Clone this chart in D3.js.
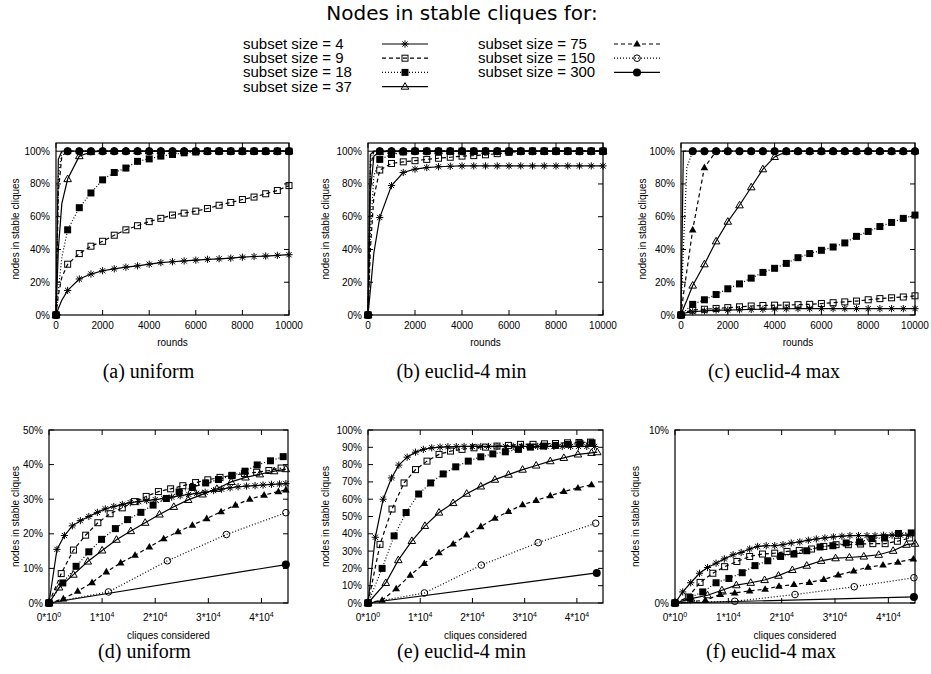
<!DOCTYPE html>
<html lang="en">
<head>
<meta charset="utf-8">
<script src="https://cdnjs.cloudflare.com/ajax/libs/d3/7.8.5/d3.min.js"></script>
<style>
  body { margin: 0; background: #fff; }
  svg { display: block; }
  .tick-label, .axis-title { font-family: 'Liberation Sans', Arial, sans-serif; font-size: 10px; fill: #000; }
  .caption { font-family: 'Liberation Serif', 'Times New Roman', serif; font-size: 20px; fill: #000; }
  .legend-text { font-family: 'Liberation Sans', Arial, sans-serif; font-size: 15px; fill: #000; }
  .legend-title { font-family: 'DejaVu Sans', sans-serif; font-size: 20px; fill: #000; }
</style>
</head>
<body>
<script>

// ---- data ----
const subsetSizes = [4, 9, 18, 37, 75, 150, 300];

// top row: x = rounds
const roundsX = [0, 100, 250, 500, 1000, 1500, 2000, 2500, 3000, 3500, 4000, 4500, 5000, 5500, 6000, 6500, 7000, 7500, 8000, 8500, 9000, 9500, 10000];
const roundTicks = [0, 2000, 4000, 6000, 8000, 10000];

// (a) uniform, % nodes in stable cliques
const uni4   = [0, 4, 9, 15, 22, 25, 27, 28.2, 29.2, 30, 31, 32, 32.5, 33, 33.5, 34, 34.3, 34.7, 35.3, 35.7, 36, 36.4, 36.8];
const uni9   = [0, 12, 23, 31, 37.5, 42, 45, 48.7, 52, 54.5, 57, 59, 61, 62.2, 63.4, 65, 67, 68.7, 70.5, 72, 74, 76, 79];
const uni18  = [0, 15, 35, 52, 65.5, 74.5, 82.5, 87, 89.7, 93.8, 95.3, 97, 98, 99, 99.5, 100, 100, 100, 100, 100, 100, 100, 100];
const uni37  = [0, 40, 68, 83, 97, 99.5, 100, 100, 100, 100, 100, 100, 100, 100, 100, 100, 100, 100, 100, 100, 100, 100, 100];
const uni75  = [0, 75, 97, 100, 100, 100, 100, 100, 100, 100, 100, 100, 100, 100, 100, 100, 100, 100, 100, 100, 100, 100, 100];
const uni150 = [0, 85, 99, 100, 100, 100, 100, 100, 100, 100, 100, 100, 100, 100, 100, 100, 100, 100, 100, 100, 100, 100, 100];
const uni300 = [0, 95, 100, 100, 100, 100, 100, 100, 100, 100, 100, 100, 100, 100, 100, 100, 100, 100, 100, 100, 100, 100, 100];

// (b) euclid-4 min
const min4   = [0, 15, 38, 59.5, 79, 87, 89, 90, 90.5, 90.8, 91, 91, 91, 91, 91, 91, 91, 91, 91, 91, 91, 91, 91];
const min9   = [0, 40, 72, 88.5, 92.5, 93.5, 94.2, 95, 95.7, 96.3, 97, 97.3, 97.8, 98.5, 99.3, 99.8, 100, 100, 100, 100, 100, 100, 100];
const min18  = [0, 50, 85, 95, 98, 99.5, 100, 100, 100, 100, 100, 100, 100, 100, 100, 100, 100, 100, 100, 100, 100, 100, 100];
const min37  = [0, 75, 97, 99.5, 100, 100, 100, 100, 100, 100, 100, 100, 100, 100, 100, 100, 100, 100, 100, 100, 100, 100, 100];
const min75  = [0, 90, 100, 100, 100, 100, 100, 100, 100, 100, 100, 100, 100, 100, 100, 100, 100, 100, 100, 100, 100, 100, 100];
const min150 = [0, 95, 100, 100, 100, 100, 100, 100, 100, 100, 100, 100, 100, 100, 100, 100, 100, 100, 100, 100, 100, 100, 100];
const min300 = [0, 98, 100, 100, 100, 100, 100, 100, 100, 100, 100, 100, 100, 100, 100, 100, 100, 100, 100, 100, 100, 100, 100];

// (c) euclid-4 max
const max4   = [0, 0.8, 1.5, 2, 2.5, 3, 3, 3.2, 3.4, 3.5, 3.7, 3.8, 3.9, 3.9, 3.9, 3.9, 3.9, 3.9, 3.9, 3.9, 3.9, 3.9, 3.9];
const max9   = [0, 1, 2, 3, 3.5, 4, 4.5, 5, 5.5, 5.8, 6, 6, 6.3, 6.5, 7, 7.5, 8, 8.5, 9.3, 10, 10.5, 11, 11.7];
const max18  = [0, 1.5, 3.5, 6.5, 9.3, 12.5, 16, 19, 22.5, 26, 28.5, 31.5, 35, 37.5, 39.5, 41.5, 44, 48, 51, 54, 56.5, 59, 61];
const max37  = [0, 4, 9, 18, 31, 45, 57, 67, 78, 89, 96.5, 99.8, 100, 100, 100, 100, 100, 100, 100, 100, 100, 100, 100];
const max75  = [0, 12, 27, 52, 90, 100, 100, 100, 100, 100, 100, 100, 100, 100, 100, 100, 100, 100, 100, 100, 100, 100, 100];
const max150 = [0, 40, 90, 100, 100, 100, 100, 100, 100, 100, 100, 100, 100, 100, 100, 100, 100, 100, 100, 100, 100, 100, 100];
const max300 = [0, 100, 100, 100, 100, 100, 100, 100, 100, 100, 100, 100, 100, 100, 100, 100, 100, 100, 100, 100, 100, 100, 100];

// bottom row: [cliques considered (thousands), % nodes]
const cliqueTicks = [0, 10, 20, 30, 40];

// (d) uniform
const cUni4 = [[0,0],[1.5,15.5],[2.9,19.5],[4.4,22.3],[5.9,23.8],[7.5,25],[9.1,26.2],[10.6,27.2],[12.2,27.9],[13.8,28.5],[15.3,29],[16.9,29.3],[18.4,29.6],[20,29.9],[21.6,30.2],[23.1,30.6],[24.7,31],[26.3,31.4],[27.8,31.7],[29.4,32],[31,32.5],[32.5,32.9],[34.1,33.3],[35.6,33.6],[37.2,33.8],[38.8,33.9],[40.3,34.1],[41.9,34.3],[43.4,34.4],[44.6,34.5]];
const cUni9 = [[0,0],[2.3,8.5],[4.6,15.3],[6.9,19.6],[9.2,23.2],[11.5,25.8],[13.8,27.5],[16.1,29.3],[18.3,30.8],[20.6,32.2],[22.9,33],[25.2,33.9],[27.6,34.8],[29.9,35.6],[32.2,36.3],[34.5,36.9],[36.8,37.4],[39.1,37.8],[41.4,38.3],[43.7,39]];
const cUni18 = [[0,0],[2.6,5.8],[5.1,10.6],[7.5,14.8],[9.9,18.4],[12.5,21.5],[14.8,24.1],[17.3,26.2],[19.6,28.3],[22.1,30.2],[24.5,32.1],[27,33.4],[29.5,34.7],[31.9,35.7],[34.4,36.8],[36.9,38.1],[39.2,39.9],[41.7,41.1],[44.1,42.3]];
const cUni37 = [[0,0],[1.9,4.5],[4.6,8.2],[7.3,12],[10,15.2],[12.7,18.3],[15.4,20.8],[18.1,23.2],[20.8,25.6],[23.5,27.8],[26.2,29.8],[28.9,31.4],[31.6,33],[34.3,35],[37,36.3],[39.7,37.2],[42.4,38.1],[44.6,38.7]];
const cUni75 = [[0,0],[2.7,1.2],[5.4,3.4],[8.1,5.9],[10.8,9],[13.5,11.6],[16.2,13.8],[18.9,16.2],[21.6,18.6],[24.3,20.6],[27,22.5],[29.7,24.4],[32.4,26.4],[35.1,28.3],[37.8,30],[40.5,31.2],[43.2,32.2],[44.6,32.7]];
const cUni150 = [[0,0],[11.2,3.2],[22.3,12.2],[33.4,19.8],[44.6,26.1]];
const cUni300 = [[0,0],[44.6,11.1]];

// (e) euclid-4 min
const cMin4 = [[0,0],[1.4,38],[2.9,60],[4.5,72.3],[5.9,79.7],[7.5,84.3],[9.1,87.2],[10.6,88.8],[12.2,89.7],[13.8,90.1],[15.3,90.3],[16.9,90.4],[18.4,90.5],[20,90.5],[21.6,90.5],[23.1,90.5],[24.7,90.5],[26.3,90.5],[27.8,90.5],[29.4,90.5],[31,90.5],[32.5,90.5],[34.1,90.5],[35.6,90.5],[37.2,90.5],[38.8,90.5],[40.3,90.5],[41.9,90.5],[43.4,90.5]];
const cMin9 = [[0,0],[2.3,33.9],[4.6,54.3],[6.9,69.4],[9.1,77.1],[11.3,82],[13.6,85.9],[15.8,87.8],[18,88.8],[20.3,89.7],[22.5,90.1],[24.7,90.7],[26.9,91.1],[29.2,91.7],[31.6,91.7],[33.8,92],[35.9,92.2],[38.2,92.6],[40.4,92.8],[42.6,93]];
const cMin18 = [[0,0],[2.7,20],[5,38.8],[7.3,52.3],[9.7,63],[12,69.4],[14.4,74.6],[16.8,78.7],[19.2,82],[21.6,84.5],[23.9,86.2],[26.3,87.4],[28.8,88.8],[31.1,90.1],[33.6,90.7],[35.9,91.1],[38.3,91.7],[40.6,92.1],[42.9,92.6]];
const cMin37 = [[0,0],[3.4,11.6],[5.8,24.8],[8.4,35.9],[10.9,44.6],[13.6,52.3],[16.3,57.8],[18.9,63.2],[21.6,67.4],[24.3,71.3],[26.9,74.2],[29.6,77.1],[32.2,79.5],[34.9,82],[37.5,83.9],[40.2,85.9],[42.8,86.8],[43.9,87.2]];
const cMin75 = [[0,0],[2.7,1.6],[5.4,8.3],[8.1,16.1],[10.8,22.9],[13.6,29.1],[16.3,34.1],[18.9,39.3],[21.6,44.2],[24.3,49],[26.9,52.9],[29.6,56.8],[32.2,59.3],[34.9,62],[37.5,64.5],[40.2,66.5],[42.8,68.4]];
const cMin150 = [[0,0],[10.8,5.8],[21.7,21.9],[32.6,34.9],[43.6,46.1]];
const cMin300 = [[0,0],[43.8,17.4]];

// (f) euclid-4 max
const cMax4 = [[0,0],[1.45,0.64],[2.95,1.17],[4.6,1.72],[6.1,2.05],[7.7,2.3],[9.25,2.55],[10.9,2.79],[12.4,2.92],[14,3.12],[15.5,3.27],[17.1,3.31],[18.7,3.31],[20.25,3.37],[21.8,3.47],[23.4,3.53],[25,3.63],[26.5,3.7],[28.1,3.76],[29.7,3.82],[31.3,3.86],[32.8,3.9],[34.4,3.9],[36,3.9],[37.5,3.9],[39.1,3.92],[40.7,3.92],[42.3,3.92],[43.8,3.92]];
const cMax9 = [[0,0],[2.5,0.35],[4.7,1.19],[7.1,1.72],[9.3,2.1],[11.6,2.4],[14,2.69],[16.4,2.83],[18.7,2.88],[21,2.98],[23.3,3.04],[25.6,3.12],[27.9,3.27],[30.2,3.37],[32.5,3.37],[34.8,3.41],[37.1,3.43],[39.4,3.43],[41.7,3.57],[44,3.76]];
const cMax18 = [[0,0],[2.8,0.31],[5.2,0.64],[7.7,1.17],[10.1,1.42],[12.6,1.75],[15,2.16],[17.4,2.44],[19.8,2.69],[22.3,2.83],[24.7,3.02],[27.2,3.24],[29.6,3.31],[32.1,3.47],[34.6,3.53],[36.9,3.72],[39.3,3.76],[41.9,4.02],[44.3,4.05]];
const cMax37 = [[0,0],[3,0.25],[6.1,0.45],[8.8,0.74],[11.5,1.03],[14.2,1.17],[16.8,1.33],[19.4,1.58],[22,1.91],[24.7,2.16],[27.4,2.44],[30.1,2.59],[32.7,2.63],[35.4,2.69],[38.2,2.79],[40.9,3.02],[43.4,3.37],[45,3.43]];
const cMax75 = [[0,0],[5.7,0.16],[8.5,0.5],[11.2,0.58],[14,0.7],[16.9,0.8],[19.5,0.97],[22.3,1.07],[25.2,1.19],[27.9,1.36],[30.6,1.62],[33.5,1.85],[36.2,2.07],[39,2.2],[41.8,2.36],[44.7,2.55]];
const cMax150 = [[0,0],[11.2,0.1],[22.5,0.49],[33.6,0.94],[44.8,1.46]];
const cMax300 = [[0,0],[44.8,0.35]];

// ---- styles per subset size (line dash + point type) ----
const seriesStyle = [
  { dash: null,  marker: "star" },
  { dash: "4,3", marker: "square" },
  { dash: "1,2", marker: "squareFilled" },
  { dash: null,  marker: "triangle" },
  { dash: "4,3", marker: "triangleFilled" },
  { dash: "1,2", marker: "circle" },
  { dash: null,  marker: "circleFilled" }
];

const W = 931, H = 674;
const svg = d3.select("body").append("svg").attr("width", W).attr("height", H);

function drawMarker(g, type, x, y) {
  const m = g.append("g").attr("transform", "translate(" + x + "," + y + ")");
  if (type === "star") {
    m.append("path").attr("d", "M-3.6,0H3.6M0,-3.6V3.6M-2.6,-2.6L2.6,2.6M-2.6,2.6L2.6,-2.6")
      .attr("stroke", "#000").attr("stroke-width", 1).attr("fill", "none");
  } else if (type === "square") {
    m.append("rect").attr("x", -3).attr("y", -3).attr("width", 6).attr("height", 6)
      .attr("stroke", "#000").attr("stroke-width", 1).attr("fill", "none");
  } else if (type === "squareFilled") {
    m.append("rect").attr("x", -3.5).attr("y", -3.5).attr("width", 7).attr("height", 7).attr("fill", "#000");
  } else if (type === "triangle") {
    m.append("path").attr("d", "M0,-4L3.8,2.6H-3.8Z")
      .attr("stroke", "#000").attr("stroke-width", 1).attr("fill", "none");
  } else if (type === "triangleFilled") {
    m.append("path").attr("d", "M0,-4L3.8,2.6H-3.8Z").attr("fill", "#000");
  } else if (type === "circle") {
    m.append("circle").attr("r", 3.3).attr("stroke", "#000").attr("stroke-width", 1).attr("fill", "none");
  } else {
    m.append("circle").attr("r", 4).attr("fill", "#000");
  }
}

const zipRounds = v => roundsX.map((x, i) => [x, v[i]]);

const topY = { y0: 315, y1: 143, yMax: 105, yTicks: [0, 20, 40, 60, 80, 100] };
const botY = { y0: 603, y1: 430 };

const panels = [
  { x0: 56,  x1: 289, ...topY, kind: "rounds", yLabelX: 15,  caption: "(a) uniform",
    series: [uni4, uni9, uni18, uni37, uni75, uni150, uni300].map(zipRounds) },
  { x0: 368, x1: 603, ...topY, kind: "rounds", yLabelX: 325, caption: "(b) euclid-4 min",
    series: [min4, min9, min18, min37, min75, min150, min300].map(zipRounds) },
  { x0: 681, x1: 915, ...topY, kind: "rounds", yLabelX: 642, caption: "(c) euclid-4 max",
    series: [max4, max9, max18, max37, max75, max150, max300].map(zipRounds) },
  { x0: 49,  x1: 288, ...botY, yMax: 50, yTicks: [0, 10, 20, 30, 40, 50], kind: "cliques", yLabelX: 15, caption: "(d) uniform",
    series: [cUni4, cUni9, cUni18, cUni37, cUni75, cUni150, cUni300] },
  { x0: 368, x1: 603, ...botY, yMax: 100, yTicks: [0, 10, 20, 30, 40, 50, 60, 70, 80, 90, 100], kind: "cliques", yLabelX: 325, caption: "(e) euclid-4 min",
    series: [cMin4, cMin9, cMin18, cMin37, cMin75, cMin150, cMin300] },
  { x0: 675, x1: 915, ...botY, yMax: 10, yTicks: [0, 10], kind: "cliques", yLabelX: 635, caption: "(f) euclid-4 max",
    series: [cMax4, cMax9, cMax18, cMax37, cMax75, cMax150, cMax300] }
];

panels.forEach(p => {
  const isRounds = p.kind === "rounds";
  const x = d3.scaleLinear().domain([0, isRounds ? 10000 : 45]).range([p.x0, p.x1]);
  const y = d3.scaleLinear().domain([0, p.yMax]).range([p.y0, p.y1]);
  const g = svg.append("g");
  const xTicks = isRounds ? roundTicks : cliqueTicks;
  const tl = 5;

  // ticks (mirrored, pointing inward)
  xTicks.forEach(t => {
    g.append("line").attr("x1", x(t)).attr("x2", x(t)).attr("y1", p.y0).attr("y2", p.y0 - tl).attr("stroke", "#000");
    g.append("line").attr("x1", x(t)).attr("x2", x(t)).attr("y1", p.y1).attr("y2", p.y1 + tl).attr("stroke", "#000");
  });
  p.yTicks.forEach(t => {
    g.append("line").attr("x1", p.x0).attr("x2", p.x0 + tl).attr("y1", y(t)).attr("y2", y(t)).attr("stroke", "#000");
    g.append("line").attr("x1", p.x1).attr("x2", p.x1 - tl).attr("y1", y(t)).attr("y2", y(t)).attr("stroke", "#000");
    g.append("text").attr("class", "tick-label").attr("x", p.x0 - 6).attr("y", y(t)).attr("dy", "0.35em")
      .attr("text-anchor", "end").text(t + "%");
  });

  // x tick labels
  xTicks.forEach(t => {
    const tx = g.append("text").attr("class", "tick-label").attr("x", x(t))
      .attr("y", p.y0 + (isRounds ? 14 : 18)).attr("text-anchor", "middle");
    if (isRounds) {
      tx.text(t);
    } else {
      tx.append("tspan").text((t / 10) + "*10");
      tx.append("tspan").attr("dy", -4).attr("font-size", "7px").text(t === 0 ? "0" : "4");
    }
  });

  // axis titles
  g.append("text").attr("class", "axis-title").attr("x", (p.x0 + p.x1) / 2)
    .attr("y", p.y0 + (isRounds ? 31 : 36)).attr("text-anchor", "middle")
    .text(isRounds ? "rounds" : "cliques considered");
  g.append("text").attr("class", "axis-title")
    .attr("transform", "translate(" + (p.yLabelX + 4) + "," + ((p.y0 + p.y1) / 2) + ") rotate(-90)")
    .attr("text-anchor", "middle").text("nodes in stable cliques");

  // caption
  g.append("text").attr("class", "caption").attr("x", (p.x0 + p.x1) / 2 - 24)
    .attr("y", p.y0 + (isRounds ? 63 : 55)).attr("text-anchor", "middle").text(p.caption);

  // series
  const line = d3.line().x(d => x(d[0])).y(d => y(d[1]));
  p.series.forEach((s, i) => {
    const st = seriesStyle[i];
    g.append("path").datum(s).attr("d", line).attr("fill", "none").attr("stroke", "#000")
      .attr("stroke-width", 1.2).attr("stroke-dasharray", st.dash);
    const pts = isRounds ? s.filter(d => d[0] % 500 === 0) : s;
    pts.forEach(d => drawMarker(g, st.marker, x(d[0]), y(d[1])));
  });

  // frame
  g.append("rect").attr("x", p.x0).attr("y", p.y1).attr("width", p.x1 - p.x0).attr("height", p.y0 - p.y1)
    .attr("fill", "none").attr("stroke", "#000").attr("stroke-width", 1.2);
});

// ---- legend ----
const legend = svg.append("g");
legend.append("text").attr("class", "legend-title").attr("x", 462).attr("y", 20)
  .attr("text-anchor", "middle").text("Nodes in stable cliques for:");

subsetSizes.forEach((s, i) => {
  const col = i < 4 ? 0 : 1;
  const row = i < 4 ? i : i - 4;
  const tx = col === 0 ? 243 : 478;
  const lx = col === 0 ? 382 : 614;
  const ly = 44 + row * 14.2;
  legend.append("text").attr("class", "legend-text").attr("x", tx).attr("y", ly + 5).text("subset size = " + s);
  legend.append("line").attr("x1", lx).attr("x2", lx + 46).attr("y1", ly).attr("y2", ly)
    .attr("stroke", "#000").attr("stroke-width", 1.2).attr("stroke-dasharray", seriesStyle[i].dash);
  drawMarker(legend, seriesStyle[i].marker, lx + 23, ly);
});

</script>
</body>
</html>
